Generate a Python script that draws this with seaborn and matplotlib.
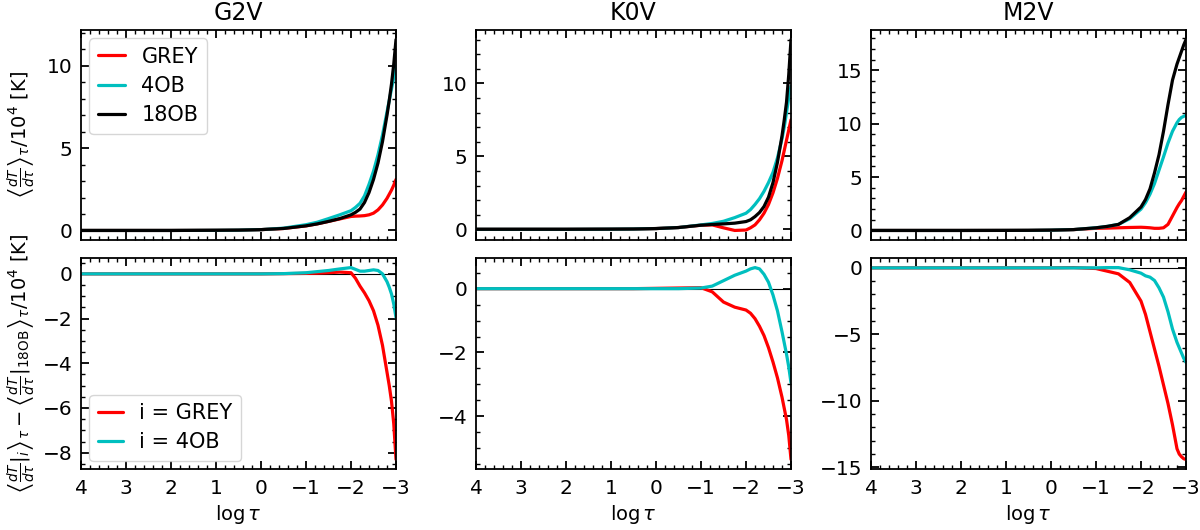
import numpy as np
import pandas as pd
import matplotlib
matplotlib.use("Agg")
import matplotlib.pyplot as plt
from matplotlib.ticker import AutoMinorLocator, MultipleLocator
import seaborn as sns

# ---------------- data ----------------
log_tau = [4, 3, 2, 1, 0.5, 0, -0.5, -1, -1.25, -1.5, -1.75, -2, -2.1, -2.2, -2.3,
           -2.4, -2.5, -2.6, -2.7, -2.8, -2.85, -2.9, -2.95, -3]

stars = ["G2V", "K0V", "M2V"]

# top row: <dT/dtau>_tau / 1e4 [K]
g2v_grey = [0, 0, 0, 0.01, 0.02, 0.05, 0.12, 0.28, 0.4, 0.55, 0.7, 0.85, 0.87, 0.88, 0.9,
            0.95, 1.05, 1.25, 1.55, 1.95, 2.2, 2.45, 2.75, 3.1]
g2v_4ob = [0, 0, 0, 0.01, 0.02, 0.05, 0.14, 0.35, 0.5, 0.72, 0.95, 1.2, 1.4, 1.65, 2.1,
           2.8, 3.6, 4.6, 5.8, 7.2, 7.9, 8.6, 9.3, 10.0]
g2v_18ob = [0, 0, 0, 0.01, 0.02, 0.05, 0.12, 0.28, 0.4, 0.55, 0.72, 0.95, 1.1, 1.3, 1.7,
            2.3, 3.1, 4.1, 5.4, 7.0, 7.9, 8.9, 10.1, 11.6]

k0v_grey = [0, 0, 0, 0.01, 0.02, 0.05, 0.12, 0.28, 0.3, 0.1, -0.08, -0.05, 0.1, 0.3, 0.65,
            1.1, 1.7, 2.5, 3.5, 4.7, 5.4, 6.1, 6.8, 7.5]
k0v_4ob = [0, 0, 0, 0.01, 0.02, 0.05, 0.12, 0.3, 0.4, 0.55, 0.8, 1.1, 1.35, 1.7, 2.1,
           2.6, 3.2, 3.9, 4.9, 6.2, 7.0, 8.0, 9.0, 9.8]
k0v_18ob = [0, 0, 0, 0.01, 0.02, 0.05, 0.12, 0.28, 0.33, 0.37, 0.42, 0.53, 0.65, 0.87, 1.15,
            1.56, 2.2, 3.2, 4.6, 6.4, 7.5, 8.7, 10.6, 13.0]

m2v_grey = [0, 0, 0, 0.005, 0.01, 0.03, 0.08, 0.2, 0.22, 0.25, 0.28, 0.3, 0.28, 0.25, 0.2,
            0.2, 0.25, 0.57, 1.36, 2.15, 2.5, 2.8, 3.2, 3.6]
m2v_4ob = [0, 0, 0, 0.005, 0.01, 0.03, 0.08, 0.25, 0.38, 0.57, 1.1, 2.0, 2.6, 3.4, 4.4,
           5.65, 6.9, 8.2, 9.3, 10.1, 10.4, 10.6, 10.7, 10.8]
m2v_18ob = [0, 0, 0, 0.005, 0.01, 0.03, 0.08, 0.25, 0.38, 0.57, 1.2, 2.2, 2.9, 3.9, 5.4,
            7.1, 9.3, 11.8, 14.1, 15.6, 16.2, 16.8, 17.4, 17.9]

# bottom row: difference to 18OB / 1e4 [K]
g2v_d_grey = [0, 0, 0, 0, 0, 0, 0.01, 0.02, 0.03, 0.05, 0.08, 0.05, -0.2, -0.55, -0.85,
              -1.2, -1.65, -2.3, -3.2, -4.4, -5.0, -5.7, -6.7, -8.3]
g2v_d_4ob = [0, 0, 0, 0, 0, 0, 0.01, 0.05, 0.1, 0.15, 0.22, 0.28, 0.2, 0.12, 0.12,
             0.15, 0.18, 0.15, 0.0, -0.35, -0.6, -0.9, -1.35, -1.95]

k0v_d_grey = [0, 0, 0, 0, 0, 0.01, 0.02, 0.03, -0.1, -0.42, -0.58, -0.67, -0.77, -0.94, -1.18,
              -1.47, -1.85, -2.3, -2.8, -3.4, -3.75, -4.1, -4.6, -5.35]
k0v_d_4ob = [0, 0, 0, 0, 0, 0, 0.0, 0.02, 0.08, 0.25, 0.42, 0.55, 0.62, 0.66, 0.62,
             0.45, 0.2, -0.2, -0.7, -1.35, -1.7, -2.05, -2.45, -2.95]

m2v_d_grey = [0, 0, 0, 0, 0, 0, 0.02, -0.05, -0.25, -0.45, -1.1, -2.5, -3.5, -4.8, -6.1,
              -7.4, -8.8, -10.2, -11.8, -13.6, -14.0, -14.2, -14.35, -14.4]
m2v_d_4ob = [0, 0, 0, 0, 0, 0, 0, 0, 0.02, 0.02, -0.15, -0.4, -0.6, -0.7, -0.95,
             -1.5, -2.2, -3.3, -4.6, -5.6, -6.0, -6.4, -6.8, -7.1]

top_data = {
    "G2V": (g2v_grey, g2v_4ob, g2v_18ob),
    "K0V": (k0v_grey, k0v_4ob, k0v_18ob),
    "M2V": (m2v_grey, m2v_4ob, m2v_18ob),
}
bot_data = {
    "G2V": (g2v_d_grey, g2v_d_4ob),
    "K0V": (k0v_d_grey, k0v_d_4ob),
    "M2V": (m2v_d_grey, m2v_d_4ob),
}

top_labels = ["GREY", "4OB", "18OB"]
bot_labels = ["i = GREY", "i = 4OB"]
top_colors = ["#ff0000", "#00bfbf", "#000000"]
bot_colors = ["#ff0000", "#00bfbf"]

# ---------------- style ----------------
sns.set_style("ticks")
plt.rcParams.update({
    "font.family": ["DejaVu Sans"],
    "font.size": 14,
    "text.color": "black",
    "axes.labelcolor": "black",
    "xtick.color": "black",
    "ytick.color": "black",
    "xtick.labelcolor": "black",
    "ytick.labelcolor": "black",
    "axes.linewidth": 1.3,
    "xtick.direction": "in",
    "ytick.direction": "in",
    "xtick.top": True,
    "ytick.right": True,
    "xtick.major.size": 6,
    "ytick.major.size": 6,
    "xtick.minor.size": 3,
    "ytick.minor.size": 3,
    "xtick.major.width": 1.3,
    "ytick.major.width": 1.3,
    "xtick.minor.width": 1.0,
    "ytick.minor.width": 1.0,
    "xtick.major.pad": 7,
    "ytick.major.pad": 6,
    "xtick.labelsize": 14.5,
    "ytick.labelsize": 14.5,
    "axes.edgecolor": "black",
    "mathtext.fontset": "dejavusans",
})

fig = plt.figure(figsize=(12, 5.3), dpi=100)

W, H = 1200.0, 530.0
lefts = [81, 476, 871]
aw = 315
top_y0, top_y1 = 30, 240
bot_y0, bot_y1 = 258, 469

ylab_top = r"$\left\langle\frac{dT}{d\tau}\right\rangle_\tau/10^4$ [K]"
ylab_bot = (r"$\left\langle\frac{dT}{d\tau}|_i\right\rangle_\tau-"
            r"\left\langle\frac{dT}{d\tau}|_{\rm 18OB}\right\rangle_\tau/10^4$ [K]")


def style_axis(ax, show_xlabels):
    ax.set_xlim(4, -3)
    ax.xaxis.set_major_locator(MultipleLocator(1))
    ax.xaxis.set_minor_locator(AutoMinorLocator())
    ax.yaxis.set_minor_locator(AutoMinorLocator())
    ax.tick_params(which="both", direction="in", top=True, right=True,
                   color="black", labelcolor="black")
    if not show_xlabels:
        ax.tick_params(labelbottom=False)
    for s in ax.spines.values():
        s.set_visible(True)
        s.set_color("black")


for ci, star in enumerate(stars):
    l = lefts[ci] / W
    axt = fig.add_axes([l, (H - top_y1) / H, aw / W, (top_y1 - top_y0) / H])
    axb = fig.add_axes([l, (H - bot_y1) / H, aw / W, (bot_y1 - bot_y0) / H])

    for vals, lab, col in zip(top_data[star], top_labels, top_colors):
        df = pd.DataFrame({"logtau": log_tau, "v": vals})
        sns.lineplot(data=df, x="logtau", y="v", color=col, lw=2.3, ax=axt,
                     label=lab, legend=False)
    axb.axhline(0, color="black", lw=0.8, zorder=1)
    for vals, lab, col in zip(bot_data[star], bot_labels, bot_colors):
        df = pd.DataFrame({"logtau": log_tau, "v": vals})
        sns.lineplot(data=df, x="logtau", y="v", color=col, lw=2.3, ax=axb,
                     label=lab, legend=False)

    style_axis(axt, False)
    style_axis(axb, True)
    axt.set_xlabel("")
    axt.set_ylabel("")
    axb.set_ylabel("")
    axb.set_xlabel(r"$\log\tau$", fontsize=14, labelpad=4, color="black")
    axt.set_title(star, fontsize=17, pad=7, color="black")

    if ci == 0:
        axt.set_ylabel(ylab_top, fontsize=14, color="black")
        axb.set_ylabel(ylab_bot, fontsize=14, color="black")
        axt.legend(loc="upper left", fontsize=15, frameon=True, fancybox=True,
                   edgecolor="#cccccc", handlelength=1.3, handletextpad=0.8,
                   labelspacing=0.45, borderpad=0.4, borderaxespad=0.4)
        axb.legend(loc="lower left", fontsize=15, frameon=True, fancybox=True,
                   edgecolor="#cccccc", handlelength=1.2, handletextpad=0.8,
                   labelspacing=0.45, borderpad=0.4, borderaxespad=0.4)
        axt.yaxis.set_label_coords(-0.137, 0.5)
        axb.yaxis.set_label_coords(-0.137, 0.5)

fig.savefig("out.png", dpi=100)
